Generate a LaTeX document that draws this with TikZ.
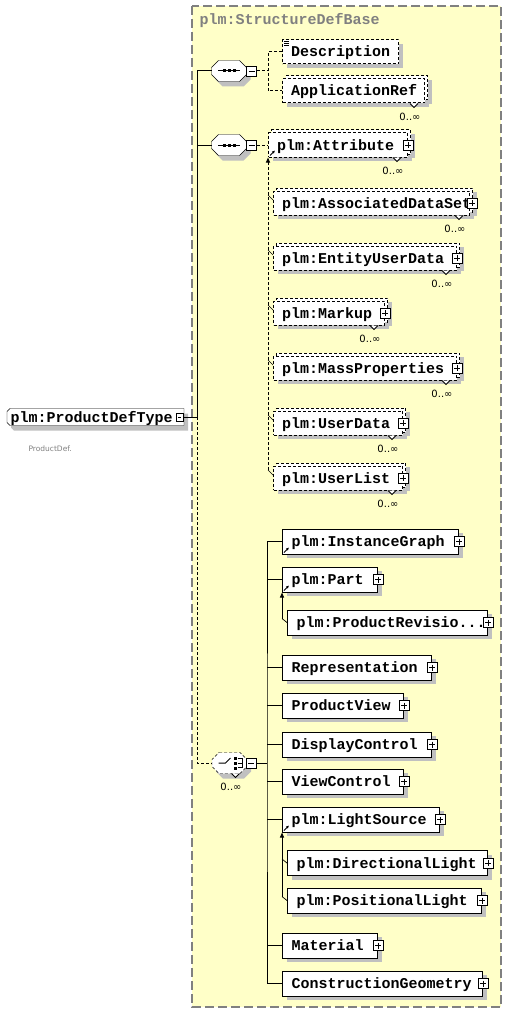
\documentclass[tikz,border=0pt]{standalone}
\usepackage{fontspec}
\usetikzlibrary{positioning,shadows,arrows.meta,calc,backgrounds}
\newfontfamily\boxfont{Liberation Mono}
\newfontfamily\notefont{DejaVu Sans}
\definecolor{panel}{RGB}{255,255,200}
\definecolor{shadowgray}{RGB}{192,192,192}
\definecolor{framegray}{RGB}{128,128,128}

\begin{document}
\begin{tikzpicture}[x=1pt, y=-1pt, line width=1pt,
    elem/.style={draw, fill=white, anchor=west, align=left,
      font=\boxfont\bfseries\fontsize{15}{15}\selectfont,
      minimum height=25pt, text height=10pt, text depth=0pt, inner xsep=9pt, inner ysep=0pt,
      drop shadow={shadow xshift=4pt, shadow yshift=-4pt, fill=shadowgray, opacity=1}},
    optelem/.style={elem, densely dashed, minimum height=24pt, inner xsep=8.5pt},
    multelem/.style={optelem,
      drop shadow={shadow xshift=7pt, shadow yshift=-1pt, fill=shadowgray, opacity=1},
      general shadow={shadow xshift=3pt, shadow yshift=3pt, draw=black, fill=white}},
    plusbox/.style={draw, fill=white, solid, minimum size=10pt, inner sep=0pt, line width=0.8pt,
      path picture={
        \draw ([xshift=2pt]path picture bounding box.west) -- ([xshift=-2pt]path picture bounding box.east);
        \draw ([yshift=-2pt]path picture bounding box.north) -- ([yshift=2pt]path picture bounding box.south);}},
    minusbox/.style={draw, fill=white, solid, minimum size=10pt, inner sep=0pt, line width=0.8pt,
      path picture={
        \draw ([xshift=2pt]path picture bounding box.west) -- ([xshift=-2pt]path picture bounding box.east);}},
    compositor/.style={minimum width=34pt, minimum height=20pt, inner sep=0pt},
    octo/.style={draw, fill=white,
      preaction={fill=shadowgray, draw=none, transform canvas={xshift=4pt, yshift=-5pt}}},
    occurs/.style={font=\notefont\fontsize{10}{10}\selectfont, inner sep=0pt},
    refmark/.style={-{Latex[length=3pt,width=3pt]}, line width=0.8pt},
    substarrow/.style={-{Triangle[length=5pt,width=4pt]}},
]
\useasboundingbox (0,0) rectangle (507,1014);

% root element
\node[anchor=west, align=left, font=\boxfont\bfseries\fontsize{15}{15}\selectfont,
  text height=10pt, text depth=0pt, minimum height=16pt, inner xsep=3pt, inner ysep=0pt, text width=170pt]
  (pdt) at (7,417) {plm:ProductDefType};
\node[minusbox, minimum width=7pt, minimum height=8pt] (pdtm) at (179.5,417) {};
\node[anchor=west, inner sep=0pt, text=framegray, font=\notefont\fontsize{7.5}{7.5}\selectfont]
  (pdtdoc) at (28,449) {ProductDef.};

% compositors
\node[compositor] (s1) at (229,71) {};
\node[minusbox] (s1m) at (251.5,71) {};
\node[compositor] (s2) at (229,145) {};
\node[minusbox] (s2m) at (251.5,145) {};
\node[compositor] (ch) at (229.5,763) {};
\node[minusbox] (chm) at (251,763) {};
\node[occurs] (chocc) at (231,787) {0..∞};

\begin{scope}[on background layer]
  \draw[framegray, fill=panel, line width=1.3pt, dash pattern=on 9pt off 4pt] (192,6) rectangle (501,1007);
  \draw[octo] ([xshift=3pt]pdt.north west) -- (pdt.north east) -- (pdt.south east)
    -- ([xshift=3pt]pdt.south west) -- ([yshift=3pt]pdt.south west) -- ([yshift=-3pt]pdt.north west) -- cycle;
  \foreach \nm/\ls in {s1/solid, s2/solid, ch/densely dashed}
    \draw[octo, \ls] ([xshift=7pt]\nm.north west) -- ([xshift=-7pt]\nm.north east) -- ([yshift=-7pt]\nm.north east)
      -- ([yshift=7pt]\nm.south east) -- ([xshift=-7pt]\nm.south east) -- ([xshift=7pt]\nm.south west)
      -- ([yshift=7pt]\nm.south west) -- ([yshift=-7pt]\nm.north west) -- cycle;
\end{scope}
\node[anchor=base west, inner sep=0pt, text=framegray, font=\boxfont\bfseries\fontsize{15}{15}\selectfont]
  (title) at (199,25) {plm:StructureDefBase};

% compositor icons
\foreach \nm in {s1,s2} {
  \draw ([xshift=-11pt]\nm.center) -- ([xshift=11pt]\nm.center);
  \foreach \d in {-5,0,5}
    \fill ([xshift=\d pt]\nm.center) +(-1.5pt,-1.5pt) rectangle +(1.5pt,1.5pt);
}
\draw ([xshift=-11pt]ch.center) -- ([xshift=-4pt]ch.center) -- ([shift={(1pt,5pt)}]ch.center);
\foreach \d in {-5,0,5}
  \fill ([shift={(5.5pt,\d pt)}]ch.center) +(-1.5pt,-1.5pt) rectangle +(1.5pt,1.5pt);
\draw ([shift={(8pt,4.5pt)}]ch.center) -- ([shift={(13pt,4.5pt)}]ch.center) -- ([shift={(13pt,-4.5pt)}]ch.center)
  -- ([shift={(8pt,-4.5pt)}]ch.center) ([shift={(8pt,0pt)}]ch.center) -- ([shift={(13pt,0pt)}]ch.center);
\draw[solid, fill=white, line width=0.8pt] ([shift={(2,0)}]ch.south) -- ([shift={(6,4)}]ch.south) -- ([shift={(10,0)}]ch.south);

% first sequence
\node[optelem, text width=99pt] (desc) at (282,52) {Description};
\node[multelem, text width=125pt] (appref) at (282,91) {ApplicationRef};

% second sequence
\node[multelem, text width=122pt] (attr) at (268,145) {plm:Attribute};
\node[multelem, text width=179pt] (ads) at (273,203) {plm:AssociatedDataSet};
\node[multelem, text width=166pt] (eud) at (273,258) {plm:EntityUserData};
\node[multelem, text width=94pt] (mk) at (273,313) {plm:Markup};
\node[multelem, text width=166pt] (mp) at (273,368) {plm:MassProperties};
\node[multelem, text width=112pt] (ud) at (273,423) {plm:UserData};
\node[multelem, text width=112pt] (ul) at (273,478) {plm:UserList};

% choice
\node[elem, text width=158pt] (ig) at (282,541.5) {plm:InstanceGraph};
\node[elem, text width=77pt] (part) at (282,579.5) {plm:Part};
\node[elem, text width=182pt] (prev) at (287,622.5) {plm:ProductRevisio...};
\node[elem, text width=131pt] (repr) at (282,667.5) {Representation};
\node[elem, text width=103pt] (pview) at (282,705.5) {ProductView};
\node[elem, text width=131pt] (dctl) at (282,744.5) {DisplayControl};
\node[elem, text width=103pt] (vctl) at (282,781.5) {ViewControl};
\node[elem, text width=139pt] (light) at (282,819.5) {plm:LightSource};
\node[elem, text width=182pt] (dlight) at (287,863) {plm:DirectionalLight};
\node[elem, text width=176pt] (plight) at (287,900.5) {plm:PositionalLight};
\node[elem, text width=77pt] (mat) at (282,945.5) {Material};
\node[elem, text width=182pt] (cgeo) at (282,983.5) {ConstructionGeometry};

% expand buttons, occurrences
\foreach \nm in {attr,eud,mk,mp,ud,ul,ig,part,prev,repr,pview,dctl,vctl,light,dlight,plight,mat,cgeo}
  \node[plusbox] (\nm-x) at (\nm.east) {};
\node[plusbox] (ads-x) at ([xshift=2pt]ads.east) {};
\foreach \nm in {appref,attr,ads,eud,mk,mp,ud,ul} {
  \draw[solid, fill=white, line width=0.8pt] ([xshift=-15pt]\nm.south east) -- ([shift={(-11,4)}]\nm.south east) -- ([xshift=-7pt]\nm.south east);
  \node[occurs] (\nm-n) at ([shift={(-15,13)}]\nm.south east) {0..∞};
}
\foreach \d in {0,2,4}
  \draw[line width=0.7pt] ([shift={(2,2+\d)}]desc.north west) -- ++(5,0);
\foreach \nm in {attr,ig,part,light}
  \draw[refmark] ([shift={(2,-2)}]\nm.south west) -- ([shift={(7,-7)}]\nm.south west);

% connectors
\coordinate (trunk) at (197,417);
\coordinate (fk1) at (268,71);
\coordinate (cx) at (267,763);
\draw (pdtm.east) -- (trunk);
\draw (s1.west) -| (trunk);
\draw (s2.west) -- (s2.west -| trunk);
\draw[densely dashed] (trunk) |- (ch.west);
\draw[densely dashed] (s1m.east) -- (fk1) (desc.west) -| (fk1) |- (appref.west);
\draw[densely dashed] (s2m.east) -- (attr.west);
\draw (chm.east) -- (cx);
\draw (ig.west) -| (cx) |- (cgeo.west);
\foreach \nm in {part,repr,pview,dctl,vctl,light,mat}
  \draw (\nm.west) -- (\nm.west -| cx);

% substitution groups
\draw[densely dashed, substarrow] ($(ul.west -| attr.west)+(0,-8)$) -- (attr.south west);
\foreach \nm in {ads,eud,mk,mp,ud,ul}
  \draw[line width=0.7pt] ($(\nm.west -| attr.west)+(0,-8)$) -- ($(\nm.west)+(0,-3)$);
\draw[substarrow] ($(prev.west -| part.west)+(0,-4)$) -- (part.south west);
\draw[line width=0.7pt] ($(prev.west -| part.west)+(0,-4)$) -- (prev.west);
\draw[substarrow] ($(plight.west -| light.west)+(0,-4)$) -- (light.south west);
\foreach \nm in {dlight,plight}
  \draw[line width=0.7pt] ($(\nm.west -| light.west)+(0,-4)$) -- (\nm.west);
\end{tikzpicture}
\end{document}
